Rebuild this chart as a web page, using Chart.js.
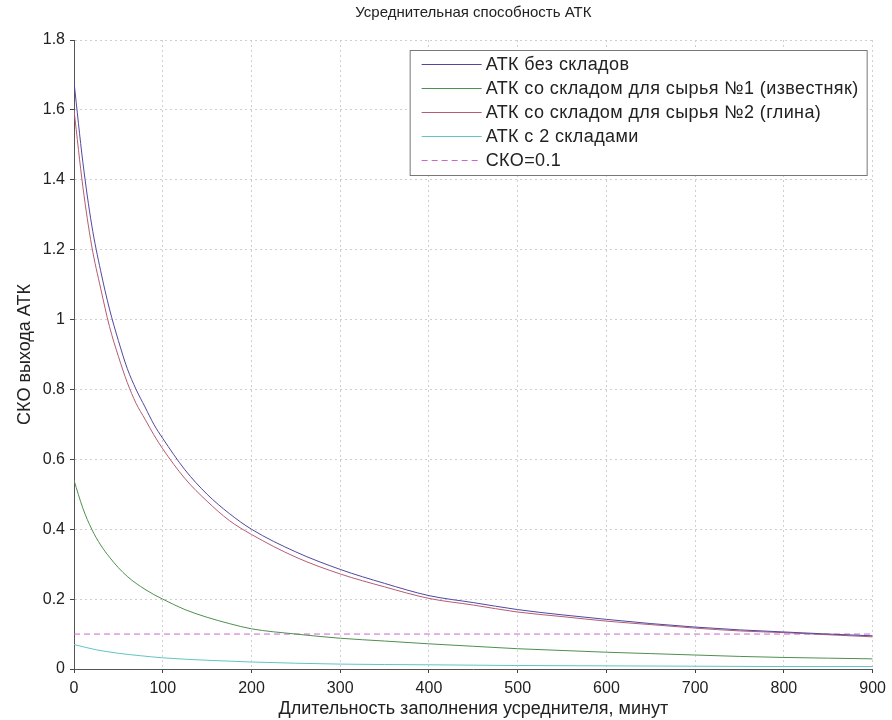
<!DOCTYPE html>
<html>
<head>
<meta charset="utf-8">
<script src="https://cdn.jsdelivr.net/npm/chart.js@4/dist/chart.umd.min.js"></script>
<style>
  html, body { margin: 0; padding: 0; background: #fff; }
  #wrap { width: 892px; height: 720px; }
</style>
</head>
<body>
<div id="wrap"><canvas id="chart" width="892" height="720"></canvas></div>
<script>
// ================= DATA =================
const chartTitle = "Усреднительная способность АТК";
const xTitle = "Длительность заполнения усреднителя, минут";
const yTitle = "СКО выхода АТК";

const seriesLabels = [
  "АТК без складов",
  "АТК со складом для сырья №1 (известняк)",
  "АТК со складом для сырья №2 (глина)",
  "АТК с 2 складами",
  "СКО=0.1"
];

// minutes
const xMain = [0, 10, 20, 30, 40, 50, 60, 70, 80, 90, 100, 125, 150, 175, 200, 250,
  300, 350, 400, 450, 500, 550, 600, 650, 700, 750, 800, 850, 900];

const noStore = [1.68, 1.45, 1.27, 1.14, 1.03, 0.94, 0.86, 0.80, 0.75, 0.70, 0.66, 0.57,
  0.50, 0.445, 0.40, 0.335, 0.285, 0.245, 0.21, 0.19, 0.17, 0.155, 0.142, 0.13, 0.12,
  0.112, 0.106, 0.10, 0.095];

const store1 = [0.54, 0.46, 0.40, 0.355, 0.32, 0.29, 0.265, 0.245, 0.228, 0.213, 0.20, 0.17,
  0.148, 0.13, 0.115, 0.10, 0.088, 0.08, 0.072, 0.065, 0.058, 0.053, 0.048, 0.044, 0.04,
  0.036, 0.033, 0.031, 0.029];

const store2 = [1.60, 1.38, 1.21, 1.09, 0.98, 0.895, 0.82, 0.76, 0.715, 0.67, 0.63, 0.545,
  0.48, 0.425, 0.385, 0.32, 0.272, 0.235, 0.202, 0.183, 0.163, 0.15, 0.137, 0.127, 0.117,
  0.109, 0.104, 0.098, 0.092];

const xTwo = [0, 25, 50, 75, 100, 150, 200, 300, 400, 500, 600, 700, 800, 900];
const twoStores = [0.07, 0.055, 0.045, 0.038, 0.032, 0.025, 0.02, 0.014, 0.012, 0.01,
  0.009, 0.008, 0.007, 0.007];

const xLimit = [0, 900];
const limitValue = [0.1, 0.1];

const colors = ["#50489e", "#4f8f4f", "#b35c72", "#62c4c4", "#cc66cc"];

// ================= HELPERS =================
function toPoints(xs, ys) {
  return xs.map((x, i) => ({ x: x, y: ys[i] }));
}

function lineSet(i, xs, ys, dash) {
  return {
    label: seriesLabels[i],
    data: toPoints(xs, ys),
    borderColor: colors[i],
    backgroundColor: colors[i],
    borderWidth: 1,
    borderDash: dash || [],
    pointRadius: 0,
    cubicInterpolationMode: "monotone",
    fill: false
  };
}

// legend box inside the axes, like matlab
const boxLegend = {
  id: "boxLegend",
  afterDatasetsDraw(chart) {
    const { ctx, chartArea } = chart;
    const sets = chart.data.datasets;
    ctx.save();
    ctx.font = "18px 'Liberation Sans', Arial, sans-serif";
    ctx.letterSpacing = "0.4px";
    let maxW = 0;
    sets.forEach(s => { maxW = Math.max(maxW, ctx.measureText(s.label).width); });
    const rowH = 24;
    const w = maxW + 84;
    const h = rowH * sets.length + 5;
    const right = chartArea.right - 6;
    const left = right - w;
    const top = chartArea.top + 10;

    ctx.fillStyle = "#fff";
    ctx.fillRect(left, top, w, h);
    ctx.strokeStyle = "#777";
    ctx.lineWidth = 1;
    ctx.strokeRect(left + 0.5, top + 0.5, w, h);

    ctx.textBaseline = "middle";
    sets.forEach((s, i) => {
      const y = Math.round(top + 14 + i * rowH) + 0.5;
      ctx.strokeStyle = s.borderColor;
      ctx.setLineDash(s.borderDash || []);
      ctx.beginPath();
      ctx.moveTo(left + 12, y);
      ctx.lineTo(left + 72, y);
      ctx.stroke();
      ctx.setLineDash([]);
      ctx.fillStyle = "#222";
      ctx.fillText(s.label, left + 76, y + 1);
    });
    ctx.restore();
  }
};

// ================= CHART =================
const ctx = document.getElementById("chart");

const chart = new Chart(ctx, {
  type: "line",
  data: {
    datasets: [
      lineSet(0, xMain, noStore),
      lineSet(1, xMain, store1),
      lineSet(2, xMain, store2),
      lineSet(3, xTwo, twoStores),
      lineSet(4, xLimit, limitValue, [6, 4])
    ]
  },
  options: {
    responsive: false,
    animation: false,
    layout: { padding: { top: 0, right: 19, bottom: 0, left: 0 } },
    plugins: {
      legend: { display: false },
      tooltip: { enabled: false },
      title: {
        display: true,
        text: chartTitle,
        fullSize: false,
        color: "#222",
        font: { family: "'Liberation Sans Narrow', 'Liberation Sans', Arial, sans-serif", size: 15, weight: "normal" },
        padding: { top: 4, bottom: 18 }
      }
    },
    scales: {
      x: {
        type: "linear",
        min: 0,
        max: 900,
        ticks: {
          stepSize: 100,
          color: "#222",
          padding: 6,
          maxRotation: 0,
          font: { family: "'Liberation Sans', Arial, sans-serif", size: 16 }
        },
        grid: { color: "#cfcfcf", tickColor: "#444", tickLength: 4 },
        border: { color: "#555", dash: [2, 3] },
        title: {
          display: true,
          text: xTitle,
          color: "#222",
          padding: { top: 0, bottom: 0 },
          font: { family: "'Liberation Sans', Arial, sans-serif", size: 18 }
        },
        afterFit(scale) { scale.height = 51; }
      },
      y: {
        min: 0,
        max: 1.8,
        ticks: {
          stepSize: 0.2,
          color: "#222",
          padding: 5,
          font: { family: "'Liberation Sans', Arial, sans-serif", size: 16 },
          callback: v => String(Number(v.toFixed(1)))
        },
        grid: { color: "#cfcfcf", tickColor: "#444", tickLength: 4 },
        border: { color: "#555", dash: [2, 3] },
        title: {
          display: true,
          text: yTitle,
          color: "#222",
          padding: { top: 14, bottom: 0 },
          font: { family: "'Liberation Sans', Arial, sans-serif", size: 18 }
        },
        afterFit(scale) { scale.width = 74; }
      }
    }
  },
  plugins: [boxLegend]
});
</script>
</body>
</html>
